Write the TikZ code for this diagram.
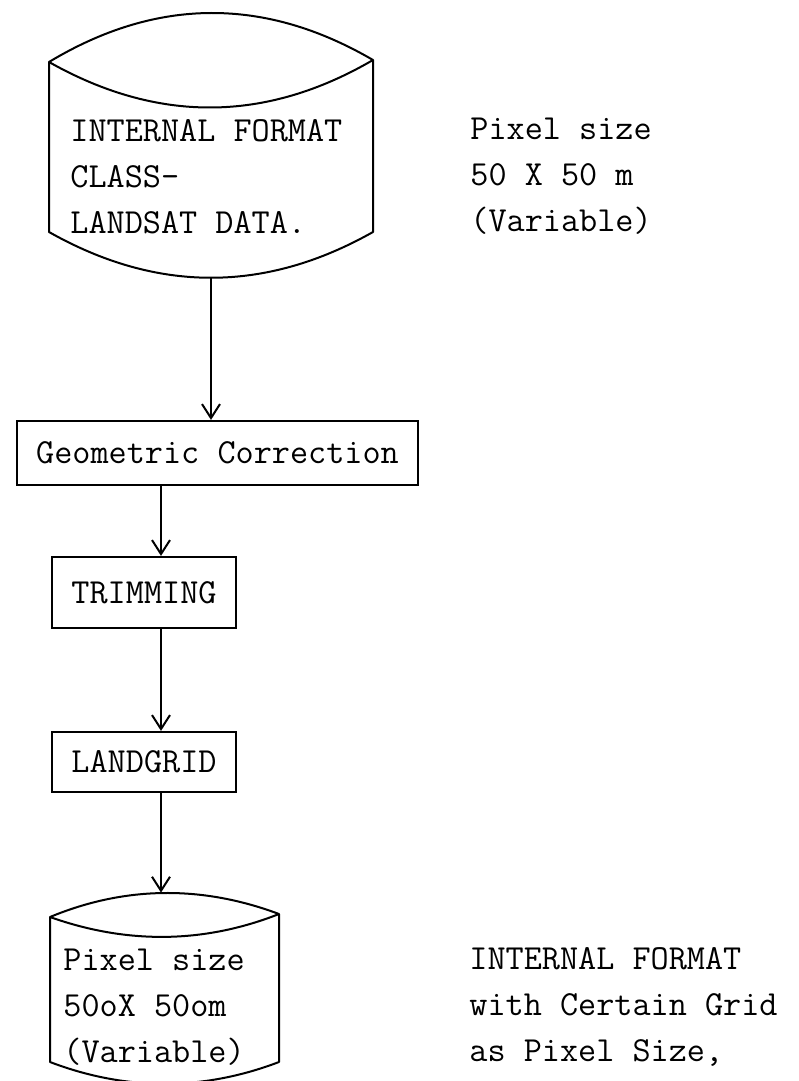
\documentclass[tikz,border=0pt]{standalone}
\usetikzlibrary{arrows.meta,positioning}

\begin{document}
\begin{tikzpicture}[
	% pixel-like units, y pointing down
	x=0.5pt, y=-0.5pt,
	font=\fontsize{17.6}{23}\selectfont\ttfamily,
	outline/.style={line width=1pt, line join=round},
	procbox/.style={draw, line width=1.1pt, inner sep=0pt, minimum height=#1},
	flow/.style={-{Straight Barb[length=7pt,width=9pt]}, line width=1pt},
	note/.style={align=left, anchor=west, inner sep=0pt}
	]
	
	\path[fill=white, use as bounding box] (0,0) rectangle (798,1081);
	
	%
	% Input drum
	%
	\node[minimum width=162pt, minimum height=132.5pt, inner sep=0pt] (drumA) at (211,145.5) {};
	\draw[outline] (49,232) -- (49,62) .. controls (157,-3) and (265,-3) .. (373,60)
		-- (373,232) .. controls (265,293) and (157,293) .. cycle;
	\draw[outline] (49,62) .. controls (157,123) and (265,123) .. (373,60);
	\node[note] (srcText) at (70,177) {INTERNAL FORMAT\\CLASS-\\LANDSAT DATA.};
	\node[note] (srcSize) at (470,176) {Pixel size\\50 X 50 m\\(Variable)};
	
	%
	% Processing steps
	%
	\node[procbox=32pt, minimum width=200.5pt] (geo) at (217.5,453) {Geometric Correction};
	\node[procbox=35.5pt, minimum width=92pt] (trim) at (144,592.5) {TRIMMING};
	\node[procbox=30pt, minimum width=92pt] (grid) at (144,762) {LANDGRID};
	
	%
	% Output drum
	%
	\node[minimum width=114.5pt, minimum height=95.5pt, inner sep=0pt] (drumB) at (164.5,988.5) {};
	\draw[outline] (50,1062) -- (50,917) .. controls (126,885.5) and (203,885.5) .. (279,914)
		-- (279,1062) .. controls (203,1091) and (126,1091) .. cycle;
	\draw[outline] (50,917) .. controls (126,944) and (203,944) .. (279,914);
	\node[note] (outText) at (63,1007) {Pixel size\\50oX 50om\\(Variable)};
	\node[note] (outFormat) at (469,1007) {INTERNAL FORMAT\\with Certain Grid\\as Pixel Size,};
	
	% arrows
	\coordinate (spine) at (161,0);
	\draw[flow] (drumA.south) -- (drumA.south |- geo.north);
	\draw[flow] (geo.south -| spine) -- (trim.north -| spine);
	\draw[flow] (trim.south -| spine) -- (grid.north -| spine);
	\draw[flow] (grid.south -| spine) -- (drumB.north -| spine);
\end{tikzpicture}
\end{document}
